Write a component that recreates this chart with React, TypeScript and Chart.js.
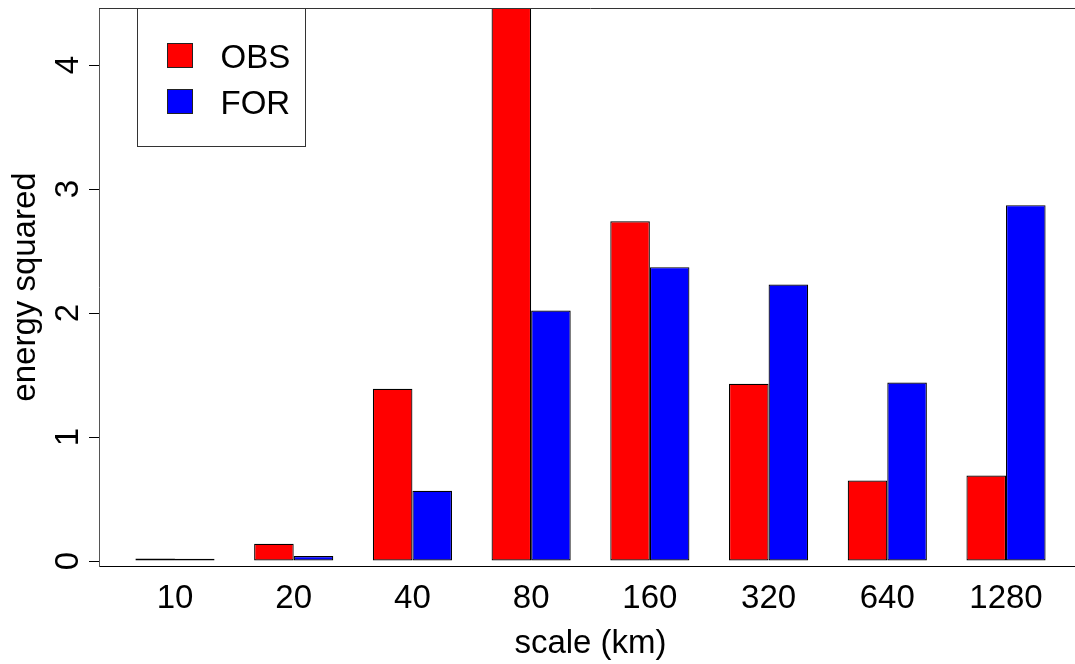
import React, { useEffect, useRef } from "react";
import { Chart, registerables } from "chart.js";

Chart.register(...registerables);

const categories = ["10", "20", "40", "80", "160", "320", "640", "1280"];
const obsValues = [0.02, 0.14, 1.39, 4.7, 2.74, 1.43, 0.65, 0.69];
const forValues = [0.018, 0.04, 0.567, 2.02, 2.37, 2.23, 1.44, 2.87];
const seriesNames = ["OBS", "FOR"];
const seriesColors = ["#ff0000", "#0000ff"];
const yTicks = [0, 1, 2, 3, 4];
const xTitle = "scale (km)";
const yTitle = "energy squared";

const FONT = "'Liberation Sans', Arial, Helvetica, sans-serif";
const FS = 33;

const rPlugin = {
  id: "rStyle",
  afterDraw(chart: any) {
    const { ctx, chartArea } = chart;
    const y = chart.scales.y;
    ctx.save();
    // top frame line
    ctx.strokeStyle = "#333";
    ctx.lineWidth = 1;
    ctx.beginPath();
    ctx.moveTo(chartArea.left, Math.floor(chartArea.top) + 0.5);
    ctx.lineTo(chartArea.right, Math.floor(chartArea.top) + 0.5);
    ctx.stroke();

    // rotated y tick labels (R style, parallel to axis)
    ctx.font = `${FS}px ${FONT}`;
    ctx.fillStyle = "#000";
    ctx.textAlign = "center";
    ctx.textBaseline = "alphabetic";
    y.ticks.forEach((t: any) => {
      const py = y.getPixelForValue(t.value);
      ctx.save();
      ctx.translate(chartArea.left - 21, py);
      ctx.rotate(-Math.PI / 2);
      ctx.fillText(String(t.label), 0, 0);
      ctx.restore();
    });

    // legend
    const bx = Math.floor(chartArea.left) + 38 + 0.5;
    const by = Math.floor(chartArea.top) + 0.5;
    ctx.strokeStyle = "#333";
    ctx.lineWidth = 1;
    ctx.strokeRect(bx, by, 168, 138);
    chart.data.datasets.forEach((ds: any, i: number) => {
      const sx = bx + 30;
      const sy = by + 35 + i * 46;
      ctx.fillStyle = ds.backgroundColor;
      ctx.fillRect(sx, sy, 25, 24);
      ctx.strokeStyle = "#222";
      ctx.strokeRect(sx, sy, 25, 24);
      ctx.fillStyle = "#000";
      ctx.textAlign = "left";
      ctx.textBaseline = "alphabetic";
      ctx.font = `${FS}px ${FONT}`;
      ctx.fillText(ds.label, bx + 83, sy + 24);
    });
    ctx.restore();
  },
};

export default function App() {
  const ref = useRef<HTMLCanvasElement | null>(null);
  useEffect(() => {
    if (!ref.current) return;
    const mk = (vals: number[]) => vals.map((v, i) => ({ x: i, y: v }));
    const chart = new Chart(ref.current, {
      type: "bar",
      data: {
        datasets: [
          {
            label: seriesNames[0],
            data: mk(obsValues) as any,
            backgroundColor: seriesColors[0],
            borderColor: "#000",
            borderWidth: 1.2,
            borderSkipped: false,
            clip: 0 as any,
          },
          {
            label: seriesNames[1],
            data: mk(forValues) as any,
            backgroundColor: seriesColors[1],
            borderColor: "#000",
            borderWidth: 1.2,
            borderSkipped: false,
            clip: 0 as any,
          },
        ],
      },
      options: {
        animation: false,
        responsive: false,
        layout: { padding: { top: 8, right: 8, left: 0, bottom: 0 } },
        categoryPercentage: 2 / 3,
        barPercentage: 1,
        plugins: { legend: { display: false }, tooltip: { enabled: false } },
        scales: {
          x: {
            type: "linear",
            offset: false,
            min: -0.64,
            max: 7.64,
            afterBuildTicks: (s: any) => {
              s.ticks = categories.map((_, i) => ({ value: i }));
            },
            afterFit: (s: any) => {
              s.height = 98;
            },
            ticks: {
              callback: (v: any) => categories[v] ?? "",
              font: { family: FONT, size: FS },
              color: "#000",
              padding: 13,
              maxRotation: 0,
              minRotation: 0,
              autoSkip: false,
            },
            grid: { display: false, drawTicks: false, offset: false },
            border: { display: true, color: "#000", width: 1 },
            title: {
              display: true,
              text: xTitle,
              font: { family: FONT, size: FS },
              color: "#000",
              padding: { top: 0, bottom: 0 },
            },
          },
          y: {
            type: "linear",
            min: -0.04,
            max: 4.46,
            afterBuildTicks: (s: any) => {
              s.ticks = yTicks.map((v) => ({ value: v }));
            },
            afterFit: (s: any) => {
              s.width = 99;
            },
            ticks: { display: false },
            grid: {
              display: true,
              drawOnChartArea: false,
              drawTicks: true,
              tickLength: 10,
              color: "#000",
              lineWidth: 1,
            },
            border: { display: true, color: "#555", width: 1 },
            title: {
              display: true,
              text: yTitle,
              font: { family: FONT, size: FS },
              color: "#000",
              padding: { top: 6, bottom: 0 },
            },
          },
        },
      } as any,
      plugins: [rPlugin],
    });
    return () => chart.destroy();
  }, []);
  return (
    <div
      style={{
        position: "fixed",
        left: 0,
        top: 0,
        width: 1075,
        height: 664,
        overflow: "hidden",
        background: "#fff",
      }}
    >
      <canvas ref={ref} width={1090} height={664} style={{ display: "block" }} />
    </div>
  );
}
